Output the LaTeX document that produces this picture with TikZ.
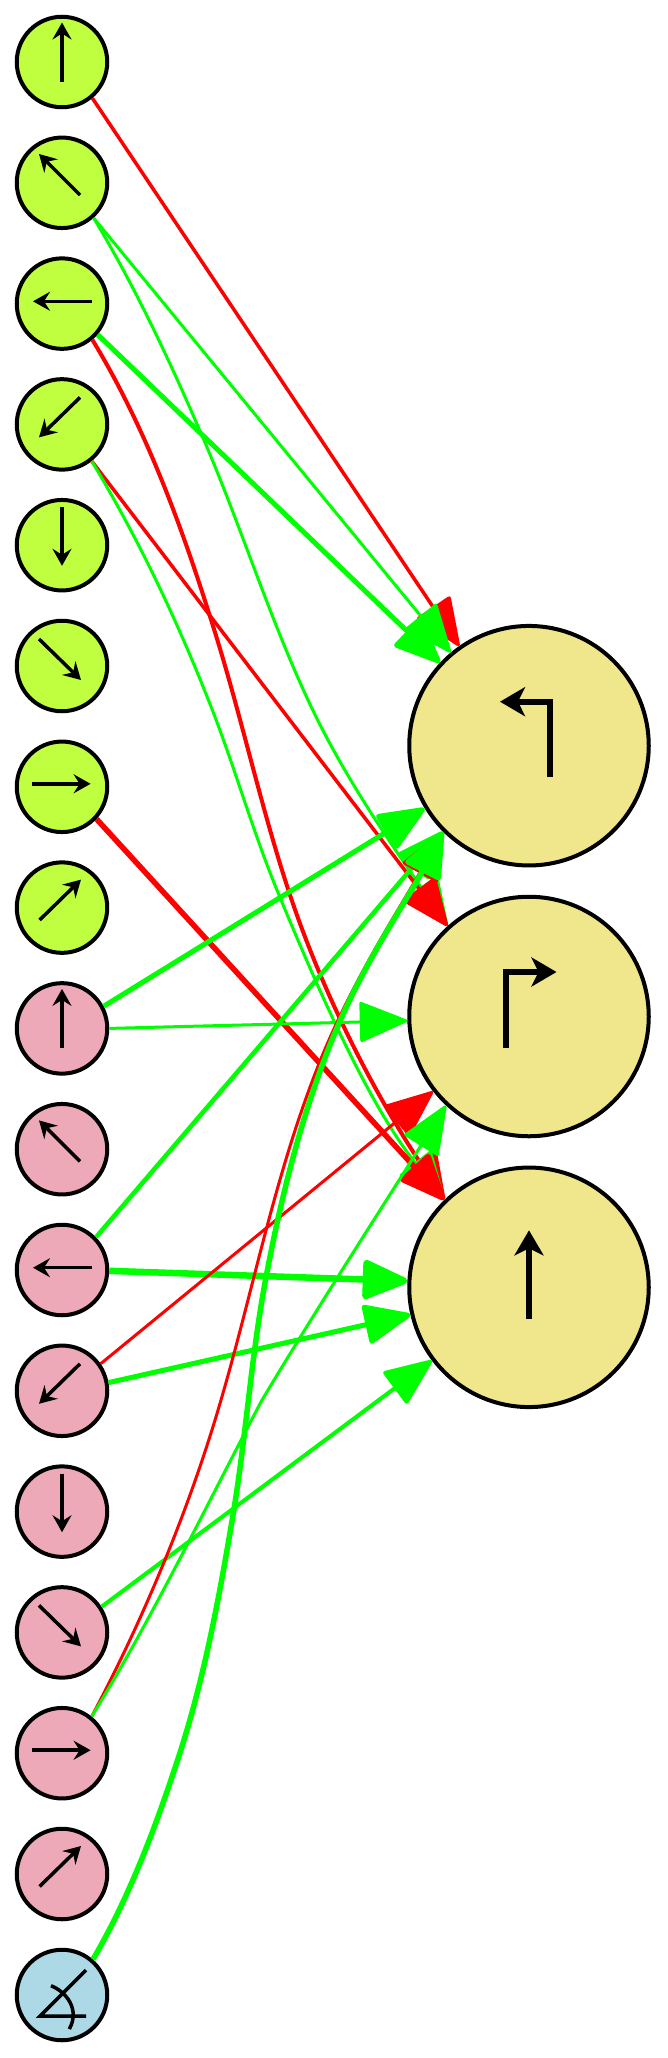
\documentclass[tikz,border=0pt]{standalone}
\usetikzlibrary{arrows.meta}
\definecolor{cgreen}{HTML}{BFFF3F}
\definecolor{cpink}{HTML}{EEA9B8}
\definecolor{ckhaki}{HTML}{F0E68C}
\definecolor{cblue}{HTML}{ADD8E6}
\definecolor{lgreen}{HTML}{00FF00}
\definecolor{lred}{HTML}{FF0000}
\tikzset{
  x=1pt,y=-1pt,
  small/.style={circle,draw=black,line width=4pt,minimum size=90.5pt,inner sep=0pt},
  large/.style={circle,draw=black,line width=4pt,minimum size=239.5pt,inner sep=0pt},
  edg/.style={line width=#1,line join=round,-{Triangle[round,length=50pt,width=41pt]}},
  iconarr/.style={black,line width=3.5pt,-{Stealth[length=17pt,width=19pt,inset=6pt]}},
  bigarr/.style={black,line width=6pt,-{Stealth[length=25pt,width=29pt,inset=7pt]}}
}
\begin{document}
\begin{tikzpicture}
\useasboundingbox (0,0) rectangle (667,2058);
\fill[white] (0,0) rectangle (667,2058);
% nodes
\foreach \n [count=\i from 0] in {g1,g2,g3,g4,g5,g6,g7,g8}
  \node[small,fill=cgreen] (\n) at (62,62+120.8*\i) {};
\foreach \n [count=\i from 8] in {p1,p2,p3,p4,p5,p6,p7,p8}
  \node[small,fill=cpink] (\n) at (62,62+120.8*\i) {};
\node[small,fill=cblue] (b) at (62,1995) {};
\node[large,fill=ckhaki] (L) at (529,745.7) {};
\node[large,fill=ckhaki] (R) at (529,1016.5) {};
\node[large,fill=ckhaki] (U) at (529,1287.3) {};
% edges
\draw[edg=3.5pt,lred] (g1.-50.6) -- (L.125.3);
\draw[edg=3pt,lgreen] (g2.-48.4) -- (L.130.7);
\draw[edg=3pt,lgreen] (g2.-48.4) .. controls (134,285) and (168,357) .. (200,431)
  .. controls (239,520) and (267,612) .. (308,700)
  .. controls (345,780) and (399,855) .. (R.132.4);
\draw[edg=5pt,lgreen] (g3.-41) -- (L.137.5);
\draw[edg=4pt,lred] (g3.-50.2) .. controls (146,428) and (182,527) .. (212.7,625)
  .. controls (240.6,713) and (260,804) .. (289,892)
  .. controls (326,1004) and (381,1103) .. (U.134);
\draw[edg=3.5pt,lred] (g4.-51) -- (R.132.4);
\draw[edg=3pt,lgreen] (g4.-51) .. controls (138,538) and (176,618) .. (208.4,700)
  .. controls (234,764) and (252,830) .. (278.6,894)
  .. controls (324,1004) and (371,1107) .. (U.134);
\draw[edg=5.5pt,lred] (g7.-43.7) -- (U.134);
\draw[edg=5pt,lgreen] (p1.28.9) -- (L.-149.6);
\draw[edg=3pt,lgreen] (p1.0) -- (R.-178.5);
\draw[edg=4.5pt,lgreen] (p3.44.4) -- (L.-135.6);
\draw[edg=6.5pt,lgreen] (p3.-1.7) -- (U.177.7);
\draw[edg=3pt,lred] (p4.35.4) -- (R.-142);
\draw[edg=5pt,lgreen] (p4.10.5) -- (U.-167.8);
\draw[edg=4pt,lgreen] (p6.33) -- (U.-143.9);
\draw[edg=3pt,lred] (p7.51) .. controls (144,1618) and (190,1507) .. (221,1400)
  .. controls (254,1287) and (275,1174) .. (319,1063.8)
  .. controls (352,981) and (400,908) .. (L.-135.6);
\draw[edg=3pt,lgreen] (p7.51) .. controls (153,1617) and (207,1504) .. (262,1400)
  .. controls (320,1303) and (390,1195) .. (R.-133.3);
\draw[edg=5.5pt,lgreen] (b.49.4) .. controls (130,1896) and (156,1826) .. (178.6,1757)
  .. controls (205,1676) and (220,1593) .. (234,1509)
  .. controls (247,1428) and (252,1347) .. (268,1267)
  .. controls (284,1184) and (306,1099) .. (340,1021)
  .. controls (369,955) and (410,895) .. (L.-135.6);
% small icons
\foreach \n in {g1,p1} \draw[iconarr] ([shift={(0,20)}]\n.center) -- ([shift={(0,-39.5)}]\n.center);
\foreach \n in {g2,p2} \draw[iconarr] ([shift={(18,12.2)}]\n.center) -- ([shift={(-23,-28.8)}]\n.center);
\foreach \n in {g3,p3} \draw[iconarr] ([shift={(30,-2.3)}]\n.center) -- ([shift={(-29,-2.3)}]\n.center);
\foreach \n in {g4,p4} \draw[iconarr] ([shift={(18,-27)}]\n.center) -- ([shift={(-23,13)}]\n.center);
\foreach \n in {g5,p5} \draw[iconarr] ([shift={(0,-38)}]\n.center) -- ([shift={(0,20.6)}]\n.center);
\foreach \n in {g6,p6} \draw[iconarr] ([shift={(-23,-27)}]\n.center) -- ([shift={(19,14)}]\n.center);
\foreach \n in {g7,p7} \draw[iconarr] ([shift={(-30,-3)}]\n.center) -- ([shift={(28.6,-3)}]\n.center);
\foreach \n in {g8,p8} \draw[iconarr] ([shift={(-22.4,12.4)}]\n.center) -- ([shift={(19,-28)}]\n.center);
% blue icon
\draw[black,line width=3.5pt,line join=miter] ([shift={(24,-25)}]b.center) -- ([shift={(-22,21)}]b.center) -- ([shift={(24,21)}]b.center);
\draw[black,line width=3.5pt] ([shift={(-11,-9.3)}]b.center) .. controls ([shift={(5,-3)}]b.center) and ([shift={(18,15)}]b.center) .. ([shift={(7.3,34)}]b.center);
% large icons
\draw[bigarr] ([shift={(21,31)}]L.center) -- ([shift={(21,-44)}]L.center) -- ([shift={(-29,-44)}]L.center);
\draw[bigarr] ([shift={(-23,31.5)}]R.center) -- ([shift={(-23,-44.5)}]R.center) -- ([shift={(27.5,-44.5)}]R.center);
\draw[bigarr] ([shift={(0,31.7)}]U.center) -- ([shift={(0,-57)}]U.center);
\end{tikzpicture}
\end{document}
